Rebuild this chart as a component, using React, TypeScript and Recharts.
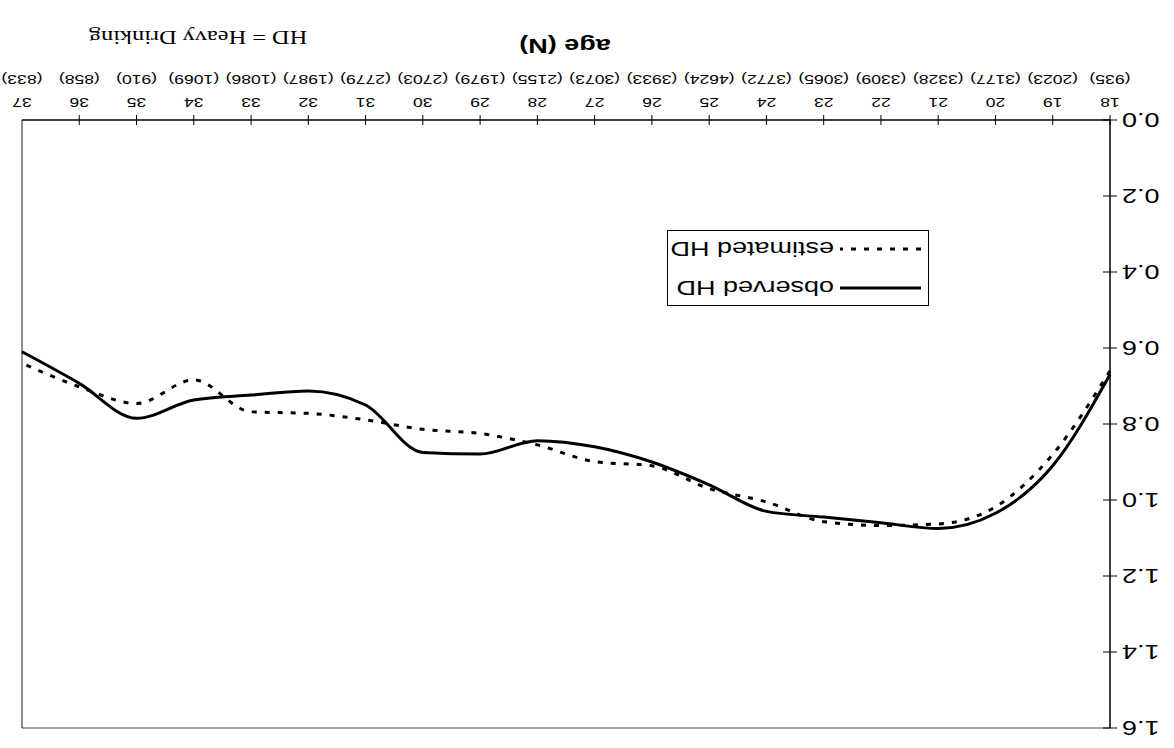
import { LineChart, Line, XAxis, YAxis, ReferenceLine, Legend } from 'recharts';

// ages on the x axis with sample sizes shown under them
const AGES = [18, 19, 20, 21, 22, 23, 24, 25, 26, 27, 28, 29, 30, 31, 32, 33, 34, 35, 36, 37];
const N_PER_AGE = [935, 2023, 3177, 3328, 3309, 3065, 3772, 4624, 3933, 3073, 2155, 1979, 2703, 2779, 1987, 1086, 1069, 910, 858, 833];

const OBSERVED_HD = [0.67, 0.91, 1.035, 1.075, 1.06, 1.045, 1.03, 0.96, 0.9, 0.86, 0.844, 0.879, 0.875, 0.75, 0.713, 0.724, 0.737, 0.785, 0.693, 0.61];
const ESTIMATED_HD = [0.66, 0.88, 1.018, 1.063, 1.067, 1.057, 1.005, 0.97, 0.91, 0.899, 0.855, 0.825, 0.814, 0.789, 0.772, 0.768, 0.684, 0.746, 0.702, 0.64];

const Y_TICKS = [0, 0.2, 0.4, 0.6, 0.8, 1.0, 1.2, 1.4, 1.6];

const data = AGES.map((age, i) => ({
  age,
  observed: OBSERVED_HD[i],
  estimated: ESTIMATED_HD[i],
}));

const SANS = '"Liberation Sans", Arial, sans-serif';
const SERIF = '"Liberation Serif", "Times New Roman", serif';
// the scan is stretched sideways, so glyphs are widened a bit
const STRETCH = 1.35;

function Stretched({ x, y, anchor = 'middle', size, weight = 'normal', family = SANS, sx = STRETCH, children }: any) {
  return (
    <text
      transform={`translate(${x} ${y}) scale(${sx} 1)`}
      textAnchor={anchor}
      fontSize={size}
      fontWeight={weight}
      fontFamily={family}
      fill="#000"
    >
      {children}
    </text>
  );
}

function AgeTick({ x, y, payload }: any) {
  const n = N_PER_AGE[AGES.indexOf(payload.value)];
  return (
    <g>
      {payload.value !== 37 && <line x1={x} x2={x} y1={y - 5} y2={y + 5} stroke="#000" />}
      <Stretched x={x} y={y + 22} size={13}>{payload.value}</Stretched>
      <Stretched x={x} y={y + 45} size={13}>({n})</Stretched>
    </g>
  );
}

function ValueTick({ x, y, payload }: any) {
  return (
    <g>
      <line x1={x - 7} x2={x + 7} y1={y} y2={y} stroke="#000" />
      <Stretched x={x - 12} y={y + 7} anchor="end" size={20}>{payload.value.toFixed(1)}</Stretched>
    </g>
  );
}

function HDLegend() {
  return (
    <svg width={262} height={76} style={{ display: 'block' }}>
      <rect x={0.5} y={0.5} width={261} height={75} fill="#fff" stroke="#000" />
      <line x1={8} x2={89} y1={18} y2={18} stroke="#000" strokeWidth={3} />
      <Stretched x={95} y={25} anchor="start" size={20}>observed HD</Stretched>
      <line x1={8} x2={89} y1={57} y2={57} stroke="#000" strokeWidth={3} strokeDasharray="5 8" />
      <Stretched x={95} y={64} anchor="start" size={20}>estimated HD</Stretched>
    </svg>
  );
}

export default function App() {
  return (
    <div style={{ position: 'absolute', left: 0, top: 0, width: 1174, height: 748, background: '#fff', transform: 'rotate(180deg)' }}>
      <LineChart width={1174} height={748} data={data} margin={{ top: 20, right: 22, bottom: 0, left: 0 }}>
        <XAxis
          dataKey="age"
          type="number"
          domain={[18, 37]}
          ticks={AGES}
          interval={0}
          height={120}
          tickSize={0}
          tickMargin={0}
          tickLine={false}
          axisLine={{ stroke: '#000', strokeWidth: 1.5 }}
          tick={(p: any) => <AgeTick {...p} />}
        />
        <YAxis
          type="number"
          domain={[0, 1.6]}
          ticks={Y_TICKS}
          interval={0}
          width={64}
          tickSize={0}
          tickMargin={0}
          tickLine={false}
          axisLine={{ stroke: '#000', strokeWidth: 1.5 }}
          tick={(p: any) => <ValueTick {...p} />}
        />
        <ReferenceLine y={1.6} stroke="#444" strokeWidth={1.2} />
        <ReferenceLine x={37} stroke="#444" strokeWidth={1.2} />
        <Line
          type="monotone"
          dataKey="observed"
          stroke="#000"
          strokeWidth={3}
          dot={false}
          isAnimationActive={false}
        />
        <Line
          type="monotone"
          dataKey="estimated"
          stroke="#000"
          strokeWidth={3}
          strokeDasharray="5 8"
          dot={false}
          isAnimationActive={false}
        />
        <Legend
          layout="horizontal"
          verticalAlign="middle"
          align="center"
          content={() => <HDLegend />}
          wrapperStyle={{ left: 245, top: 442, width: 262, height: 76 }}
        />
      </LineChart>
      <svg width={1174} height={748} style={{ position: 'absolute', left: 0, top: 0, pointerEvents: 'none' }}>
        <Stretched x={609} y={709} size={20} weight="bold">age (N)</Stretched>
        <Stretched x={976} y={717} size={19} family={SERIF} sx={1.28}>HD = Heavy Drinking</Stretched>
      </svg>
    </div>
  );
}
